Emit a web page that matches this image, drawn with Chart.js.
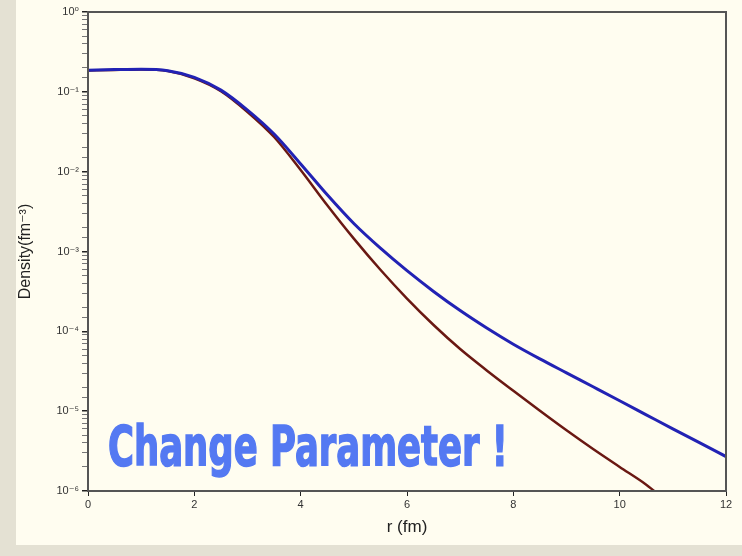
<!DOCTYPE html>
<html>
<head>
<meta charset="utf-8">
<script src="https://cdn.jsdelivr.net/npm/chart.js@4.4.1/dist/chart.umd.min.js"></script>
<style>
	html, body {
		margin: 0;
		padding: 0;
		background: #e4e1d3;
	}
	.panel {
		position: absolute;
		left: 16px;
		top: 0;
		width: 726px;
		height: 545px;
		background: #fffdf0;
	}
	.chart__container {
		position: absolute;
		left: 0;
		top: 0;
		width: 726px;
		height: 545px;
	}
	.banner {
		position: absolute;
		left: 92px;
		top: 414px;
		font-family: "DejaVu Sans Condensed", "DejaVu Sans", sans-serif;
		font-weight: bold;
		font-size: 55px;
		line-height: 64px;
		color: #5479f2;
		-webkit-text-stroke: 1.5px #5479f2;
		white-space: nowrap;
		transform-origin: left top;
	}
</style>
</head>
<body>
<div class="panel">
	<div class="chart__container"><canvas id="chart" width="726" height="545"></canvas></div>
	<div class="banner" id="banner">Change Parameter !</div>
</div>
<script>
// values (density in fm^-3)
const rBlue = [0, 0.5, 1, 1.5, 2, 2.5, 3, 3.5, 4, 4.5, 5, 5.5, 6, 6.5, 7, 7.5, 8, 8.5, 9, 9.5, 10, 10.5, 11, 11.5, 12];
const densityBlue = [0.187, 0.19, 0.192, 0.184, 0.152, 0.105, 0.059, 0.0296, 0.0125, 5.13e-3, 2.24e-3, 1.10e-3, 5.75e-4, 3.16e-4, 1.82e-4, 1.10e-4, 6.9e-5, 4.52e-5, 3.02e-5, 2.02e-5, 1.35e-5, 9.0e-6, 6.0e-6, 4.03e-6, 2.7e-6];

const rRed = [0, 0.5, 1, 1.5, 2, 2.5, 3, 3.5, 4, 4.5, 5, 5.5, 6, 6.5, 7, 7.5, 8, 8.5, 9, 9.5, 10, 10.5, 10.65];
const densityRed = [0.185, 0.188, 0.19, 0.182, 0.148, 0.102, 0.056, 0.0272, 0.0105, 3.8e-3, 1.45e-3, 5.9e-4, 2.57e-4, 1.20e-4, 6.0e-5, 3.24e-5, 1.80e-5, 1.01e-5, 5.75e-6, 3.35e-6, 2.0e-6, 1.2e-6, 1.0e-6];

const xTicks = [0, 2, 4, 6, 8, 10, 12];
const yDecades = [1, 1e-1, 1e-2, 1e-3, 1e-4, 1e-5, 1e-6];
const yDecadeLabels = ["10\u2070", "10\u207b\u00b9", "10\u207b\u00b2", "10\u207b\u00b3", "10\u207b\u2074", "10\u207b\u2075", "10\u207b\u2076"];

const toPoints = (xs, ys) => xs.map((x, i) => ({ x: x, y: ys[i] }));

const isDecade = (v) => yDecades.some((d) => Math.abs(v / d - 1) < 1e-6);

// frame on top and right like the original plot box
const framePlugin = {
	id: "frame",
	afterDraw(chart) {
		const { ctx, chartArea } = chart;
		ctx.save();
		ctx.strokeStyle = "#555";
		ctx.lineWidth = 2;
		ctx.strokeRect(chartArea.left, chartArea.top, chartArea.right - chartArea.left, chartArea.bottom - chartArea.top);
		ctx.restore();
	},
};

const ctx = document.getElementById("chart").getContext("2d");
const chart = new Chart(ctx, {
	type: "line",
	data: {
		datasets: [
			{
				label: "blue",
				data: toPoints(rBlue, densityBlue),
				borderColor: "#2222b4",
				borderWidth: 3,
				pointRadius: 0,
				cubicInterpolationMode: "monotone",
				fill: false,
			},
			{
				label: "red",
				data: toPoints(rRed, densityRed),
				borderColor: "#6a1812",
				borderWidth: 2.5,
				pointRadius: 0,
				cubicInterpolationMode: "monotone",
				fill: false,
			},
		],
	},
	options: {
		responsive: false,
		animation: false,
		events: [],
		layout: { padding: { top: 12, right: 16, left: 0, bottom: 0 } },
		plugins: {
			legend: { display: false },
			tooltip: { enabled: false },
		},
		scales: {
			x: {
				type: "linear",
				min: 0,
				max: 12,
				afterBuildTicks: (scale) => {
					scale.ticks = xTicks.map((v) => ({ value: v }));
				},
				afterFit: (scale) => {
					scale.height = 54;
				},
				ticks: {
					color: "#333",
					font: { family: "Liberation Sans, DejaVu Sans", size: 11 },
					padding: 2,
					maxRotation: 0,
				},
				grid: {
					drawOnChartArea: false,
					tickLength: 5,
					color: "#222",
				},
				border: { color: "#222", width: 2 },
				title: {
					display: true,
					text: "r (fm)",
					color: "#222",
					font: { family: "Liberation Sans, DejaVu Sans", size: 17 },
					padding: { top: 0, bottom: 7 },
				},
			},
			y: {
				type: "logarithmic",
				min: 1e-6,
				max: 1,
				afterFit: (scale) => {
					scale.width = 72;
				},
				ticks: {
					autoSkip: false,
					color: "#333",
					font: { family: "Liberation Sans, DejaVu Sans", size: 11 },
					padding: 3,
					callback: (value) => {
						const idx = yDecades.findIndex((d) => Math.abs(value / d - 1) < 1e-6);
						return idx >= 0 ? yDecadeLabels[idx] : "";
					},
				},
				grid: {
					drawOnChartArea: false,
					tickLength: 6,
					color: (c) => (c.tick && isDecade(c.tick.value) ? "#222" : "#777"),
					lineWidth: (c) => (c.tick && isDecade(c.tick.value) ? 1.5 : 1),
				},
				border: { color: "#222", width: 2 },
				title: {
					display: true,
					text: "Density(fm\u207b\u00b3)",
					color: "#222",
					font: { family: "Liberation Sans, DejaVu Sans", size: 16 },
					padding: { top: 0, bottom: 0 },
				},
			},
		},
	},
	plugins: [framePlugin],
});

// squeeze the banner text to the width it has in the picture
const banner = document.getElementById("banner");
const bannerWidth = banner.getBoundingClientRect().width;
banner.style.transform = `scaleX(${400 / bannerWidth})`;
</script>
</body>
</html>
